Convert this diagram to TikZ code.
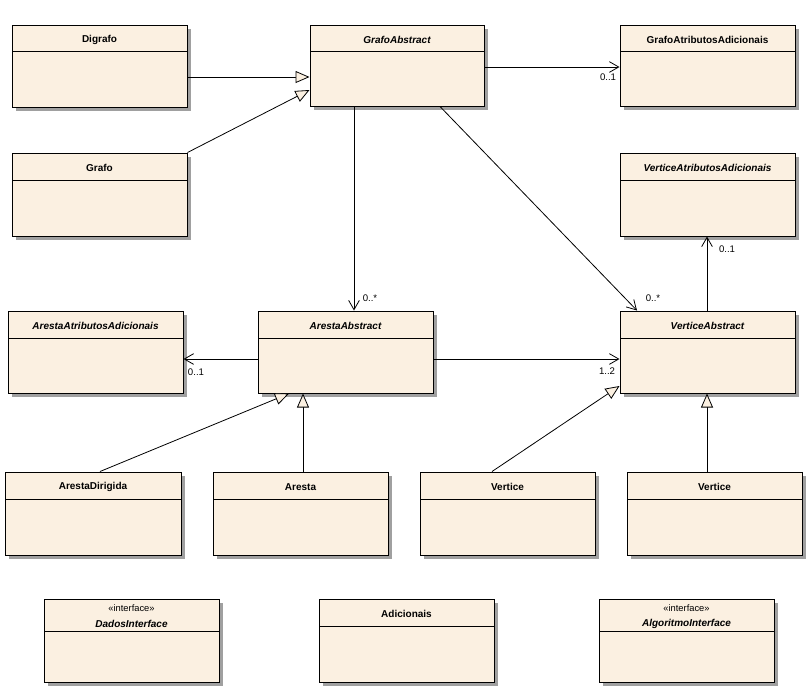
\documentclass[tikz,border=0pt]{standalone}
\usepackage{fontspec}
\setmainfont{Liberation Sans}
\usetikzlibrary{arrows.meta,fit,shadows}
\definecolor{cream}{RGB}{251,240,225}
\definecolor{shad}{RGB}{160,160,160}
\tikzset{
  clsbox/.style={draw=black, line width=0.75pt, fill=cream, inner sep=0pt,
     drop shadow={shadow xshift=3.2pt, shadow yshift=-3.2pt, fill=shad, opacity=1}},
  hdr/.style={draw=black, line width=0.75pt},
  ttl/.style={font=\fontsize{7.5}{9}\selectfont\bfseries, inner sep=0pt},
  ittl/.style={font=\fontsize{7.5}{9}\selectfont\bfseries\itshape, inner sep=0pt},
  ster/.style={font=\fontsize{7}{8}\selectfont, inner sep=0pt},
  mult/.style={font=\fontsize{7.2}{8}\selectfont, inner sep=0pt},
  gen/.style={draw=black, line width=0.6pt, -{Triangle[length=10.5pt,width=9pt,fill=cream,line width=0.6pt]}},
  assoc/.style={draw=black, line width=0.6pt, -{Straight Barb[length=7pt,width=8pt,line width=0.6pt]}},
}
\newcommand\umlcls[8]{%
  \node[clsbox, fit={(#2,#3) (#4,#5)}] (#1) {};
  \draw[hdr] (#2,#6) -- (#4,#6);
  \node[#8] (#1-t) at ({(#2+#4)/2},{(#3+#6)/2+1.5}) {#7};
}
\begin{document}
\begin{tikzpicture}[x=0.75pt,y=-0.75pt]
\useasboundingbox[fill=white] (0,0) rectangle (812,694);
\umlcls{Digrafo}{12}{25}{187}{107}{51}{Digrafo}{ttl}
\umlcls{GrafoAbstract}{310}{25}{484}{106}{51}{GrafoAbstract}{ittl}
\umlcls{GrafoAtrib}{620}{25}{795}{106}{51}{GrafoAtributosAdicionais}{ttl}
\umlcls{Grafo}{12}{153}{187}{236}{180}{Grafo}{ttl}
\umlcls{VerticeAtrib}{620}{153}{795}{236}{180}{VerticeAtributosAdicionais}{ittl}
\umlcls{ArestaAtrib}{8}{311}{183}{393}{338}{ArestaAtributosAdicionais}{ittl}
\umlcls{ArestaAbstract}{258}{311}{433}{393}{338}{ArestaAbstract}{ittl}
\umlcls{VerticeAbstract}{620}{311}{795}{393}{338}{VerticeAbstract}{ittl}
\umlcls{ArestaDirigida}{5}{472}{181}{555}{499}{ArestaDirigida}{ttl}
\umlcls{Aresta}{213}{472}{388}{555}{499}{Aresta}{ttl}
\umlcls{VerticeA}{420}{472}{595}{555}{499}{Vertice}{ttl}
\umlcls{VerticeB}{627}{472}{802}{555}{499}{Vertice}{ttl}
\umlcls{Adicionais}{319}{599}{494}{682}{626}{Adicionais}{ttl}
% interface boxes
\node[clsbox, fit={(44,599) (219,682)}] (Dados) {};
\draw[hdr] (44,631) -- (219,631);
\node[ster] (Dados-s) at (131.5,608.5) {«interface»};
\node[ittl] (Dados-t) at (131.5,623.5) {DadosInterface};
\node[clsbox, fit={(599,599) (774,682)}] (Algo) {};
\draw[hdr] (599,631) -- (774,631);
\node[ster] (Algo-s) at (686.5,608.5) {«interface»};
\node[ittl] (Algo-t) at (686.5,623.5) {AlgoritmoInterface};
% connectors
\draw[gen] (Digrafo.east |- 0,77) -- (GrafoAbstract.west |- 0,77);
\draw[gen] (Grafo.north east) -- (GrafoAbstract.west |- 0,90);
\draw[assoc] (GrafoAbstract.east |- 0,67) -- (GrafoAtrib.west |- 0,67);
\node[mult] (m1) at (608,77) {0..1};
\draw[assoc] (GrafoAbstract.south -| 354,0) -- (ArestaAbstract.north -| 354,0);
\node[mult] (m2) at (370,298) {0..*};
\draw[assoc] (GrafoAbstract.south -| 440,0) -- (VerticeAbstract.north -| 637,0);
\node[mult] (m3) at (653,298) {0..*};
\draw[assoc] (VerticeAbstract.north -| 707,0) -- (VerticeAtrib.south -| 707,0);
\node[mult] (m4) at (727,249) {0..1};
\draw[assoc] (ArestaAbstract.west |- 0,359) -- (ArestaAtrib.east |- 0,359);
\node[mult] (m5) at (196,372) {0..1};
\draw[assoc] (ArestaAbstract.east |- 0,359) -- (VerticeAbstract.west |- 0,359);
\node[mult] (m6) at (607,371) {1..2};
\draw[gen] (ArestaDirigida.north -| 100,0) -- (ArestaAbstract.south -| 289,0);
\draw[gen] (Aresta.north -| 303,0) -- (ArestaAbstract.south -| 303,0);
\draw[gen] (VerticeA.north -| 492,0) -- (VerticeAbstract.west |- 0,386);
\draw[gen] (VerticeB.north -| 707,0) -- (VerticeAbstract.south -| 707,0);
\end{tikzpicture}
\end{document}
